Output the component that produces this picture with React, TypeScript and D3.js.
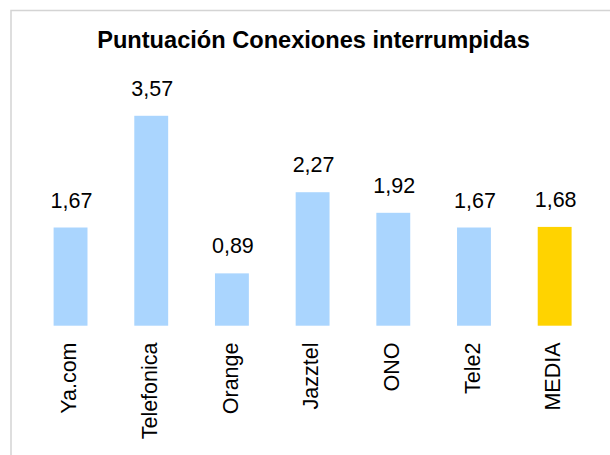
import React from "react";
import * as d3 from "d3";

const categories = ["Ya.com", "Telefonica", "Orange", "Jazztel", "ONO", "Tele2", "MEDIA"];
const values = [1.67, 3.57, 0.89, 2.27, 1.92, 1.67, 1.68];
const valueLabels = ["1,67", "3,57", "0,89", "2,27", "1,92", "1,67", "1,68"];
const barColors = ["#AAD5FE", "#AAD5FE", "#AAD5FE", "#AAD5FE", "#AAD5FE", "#AAD5FE", "#FFD300"];
const title = "Puntuación Conexiones interrumpidas";

const W = 610;
const H = 455;
const FONT = "'Liberation Sans', Arial, Helvetica, sans-serif";

export default function App() {
  const x = d3.scaleBand<string>().domain(categories).range([30.2, 595]).paddingInner(0.58).paddingOuter(0.29);
  const y = d3.scaleLinear().domain([0, 4]).range([325.7, 90.5]);

  return (
    <svg width={W} height={H} style={{ position: "absolute", left: 0, top: 0, background: "#fff" }}>
      <rect x={11} y={10.5} width={700} height={600} fill="#fff" stroke="#d4d4d4" strokeWidth={1.5} />
      <text x={313.5} y={48} textAnchor="middle" fontFamily={FONT} fontWeight="bold" fontSize={23.6} fill="#000">
        {title}
      </text>
      {categories.map((c, i) => {
        const bx = x(c)!;
        const bw = x.bandwidth();
        const cx = bx + bw / 2;
        return (
          <g key={c}>
            <rect x={bx} y={y(values[i])} width={bw} height={y(0) - y(values[i])} fill={barColors[i]} />
            <text x={cx + 1} y={y(values[i]) - 20} textAnchor="middle" fontFamily={FONT} fontSize={21.5} fill="#000">
              {valueLabels[i]}
            </text>
            <text
              transform={`translate(${cx - 2},342.5) rotate(-90)`}
              textAnchor="end"
              dy="0.36em"
              fontFamily={FONT}
              fontSize={21.5}
              fill="#000"
            >
              {c}
            </text>
          </g>
        );
      })}
    </svg>
  );
}
